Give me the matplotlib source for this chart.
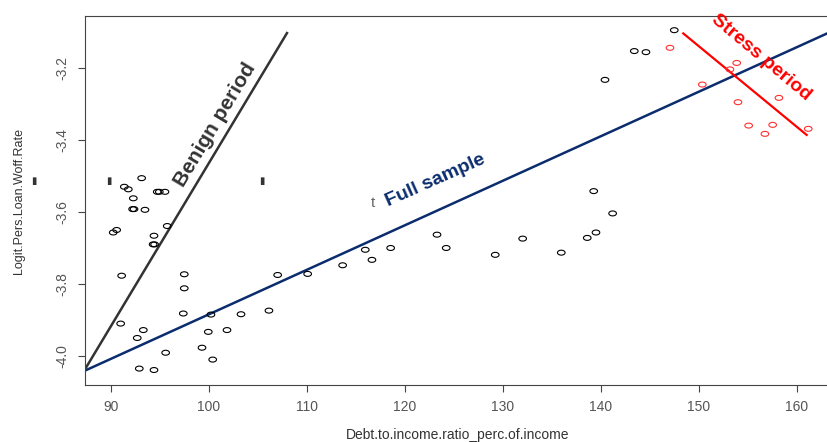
import matplotlib.pyplot as plt
from matplotlib.path import Path
import numpy as np

plt.rcParams['font.family'] = ['Liberation Sans', 'DejaVu Sans']

# full sample (black circles)
debt_black = [93.13, 91.36, 91.77, 94.72, 94.93, 95.51, 92.28, 92.21, 92.35, 93.47,
              95.74, 90.23, 90.58, 94.39, 94.30, 94.45, 91.09, 97.48, 97.48, 107.01,
              97.38, 100.20, 103.27, 106.12, 90.99, 93.30, 92.68, 99.93, 101.84, 95.58,
              99.29, 100.38, 92.89, 94.39, 110.07, 113.64, 115.95, 116.63, 118.54, 123.27,
              124.21, 129.21, 132.01, 135.95, 138.60, 139.49, 139.26, 141.19, 140.41, 143.40,
              144.59, 147.48]
logit_black = [-3.506, -3.530, -3.537, -3.544, -3.544, -3.544, -3.562, -3.592, -3.592, -3.594,
               -3.639, -3.657, -3.650, -3.666, -3.690, -3.690, -3.777, -3.773, -3.812, -3.775,
               -3.882, -3.885, -3.884, -3.874, -3.910, -3.928, -3.950, -3.933, -3.928, -3.991,
               -3.977, -4.010, -4.035, -4.039, -3.772, -3.748, -3.705, -3.733, -3.700, -3.663,
               -3.700, -3.719, -3.674, -3.713, -3.672, -3.657, -3.542, -3.604, -3.233, -3.153,
               -3.156, -3.095]

# stress period (red circles)
debt_red = [147.04, 150.34, 153.85, 153.16, 153.98, 158.16, 155.07, 157.52, 156.73, 161.15]
logit_red = [-3.144, -3.246, -3.186, -3.204, -3.295, -3.283, -3.360, -3.358, -3.383, -3.369]

# fitted lines (end points)
benign_x = [87.24, 107.96]
benign_y = [-4.042, -3.103]
full_x = [87.24, 163.4]
full_y = [-4.042, -3.100]
stress_x = [148.40, 160.99]
stress_y = [-3.104, -3.386]

xticks = [90, 100, 110, 120, 130, 140, 150, 160]
yticks = [-4.0, -3.8, -3.6, -3.4, -3.2]

# elliptical open marker, like the stretched R output
t = np.linspace(0, 2 * np.pi, 40)
ellipse = Path(np.column_stack([np.cos(t), 0.65 * np.sin(t)]), closed=True)

fig = plt.figure(figsize=(8.27, 4.42), dpi=100)
ax = fig.add_axes([85 / 827, 57 / 442, 745 / 827, 369 / 442])

ax.plot(benign_x, benign_y, color='#333333', lw=1.8)
ax.plot(full_x, full_y, color='#0b2d6e', lw=1.8)
ax.plot(stress_x, stress_y, color='#ff0000', lw=1.6)

ax.scatter(debt_black, logit_black, marker=ellipse, s=30, facecolors='none',
           edgecolors='black', linewidths=0.8, zorder=3)
ax.scatter(debt_red, logit_red, marker=ellipse, s=30, facecolors='none',
           edgecolors='#ff3030', linewidths=0.8, zorder=3)

ax.set_xlim(87.35, 87.35 + 745 / 9.8)
ax.set_ylim(-4.0806, -3.0556)
ax.set_xticks(xticks)
ax.set_yticks(yticks)
ax.set_xticklabels([str(v) for v in xticks], fontsize=10, color='#555555')
ax.set_yticklabels(['%.1f' % v for v in yticks], fontsize=10, color='#555555',
                   rotation=90, va='center')
ax.tick_params(length=5, color='#444444', pad=6)
for sp in ax.spines.values():
    sp.set_color('#444444')

ax.set_xlabel('Debt.to.income.ratio_perc.of.income', fontsize=10, color='#333333',
              labelpad=10)
ax.set_ylabel('Logit.Pers.Loan.Woff.Rate', fontsize=9, color='#333333',
              family=['Liberation Sans Narrow', 'Liberation Sans'], labelpad=22)

ax.text(0.1745, 0.7046, 'Benign period', transform=ax.transAxes, rotation=59,
        fontsize=15, fontweight='bold', color='#333333', ha='center', va='center')
ax.text(0.4698, 0.5556, 'Full sample', transform=ax.transAxes, rotation=24,
        fontsize=14, fontweight='bold', color='#0b2d6e', ha='center', va='center')
ax.text(0.908, 0.8862, 'Stress period', transform=ax.transAxes, rotation=-40,
        fontsize=14, fontweight='bold', color='#ff0000', ha='center', va='center')
ax.text(0.3866, 0.493, 't', transform=ax.transAxes, fontsize=11, color='#666666',
        ha='center', va='center')

for xp in [34, 109, 262]:
    fig.text(xp / 827, 1 - 181 / 442, '\u25ae', fontsize=7, family='DejaVu Sans',
             color='#333333', ha='center', va='center')

fig.savefig('out.png', dpi=100)
